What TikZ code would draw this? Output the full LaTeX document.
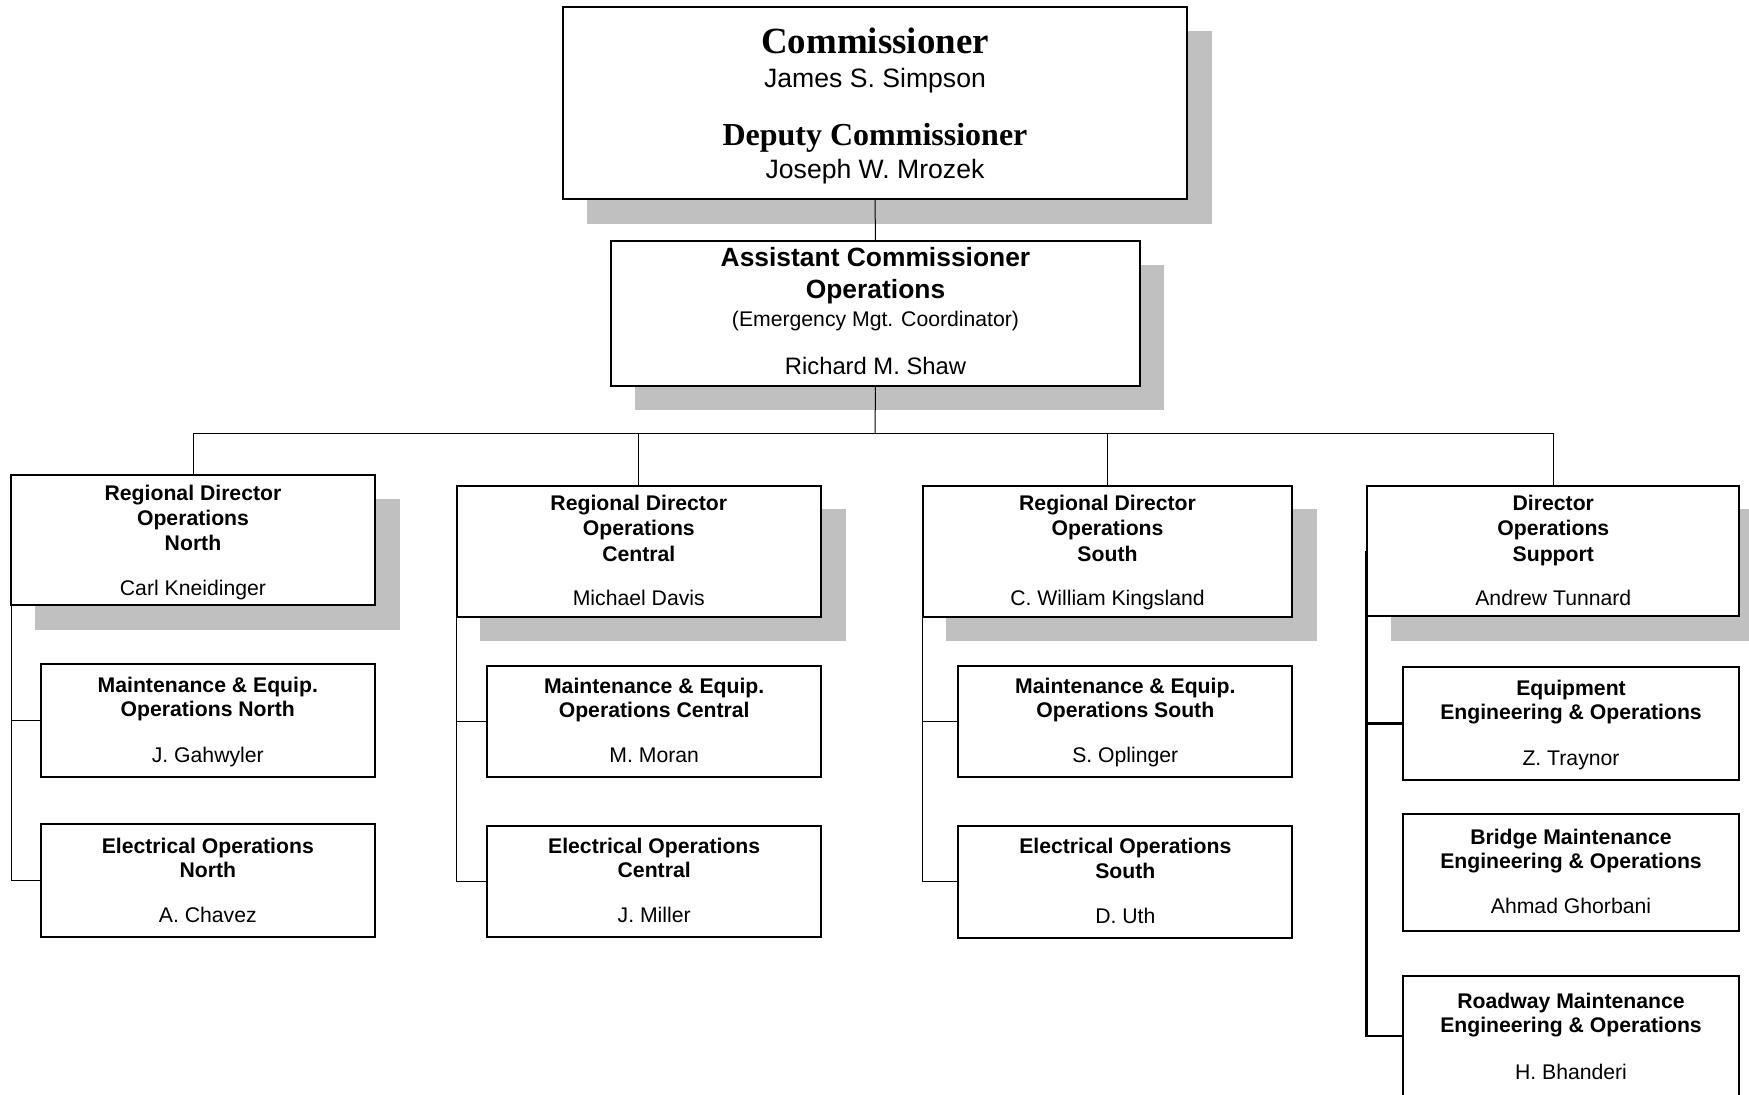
\documentclass[tikz,border=0pt]{standalone}
\usepackage{fontspec}
\newfontfamily\arialf{Liberation Sans}
\newfontfamily\timesf{Liberation Serif}
\usetikzlibrary{backgrounds}
\definecolor{shadowgray}{HTML}{C0C0C0}
\begin{document}
\begin{tikzpicture}[x=1pt,y=-1pt,
  box/.style={draw, line width=2pt, fill=white, inner sep=0pt, outer sep=0pt, anchor=north west},
  conn/.style={line width=1pt},
  thickconn/.style={line width=2.4pt},
  tx/.style={anchor=base, inner sep=0pt, outer sep=0pt},
  tb/.style={tx, font=\arialf\bfseries\fontsize{21.2}{25}\selectfont},
  tr/.style={tx, font=\arialf\fontsize{21.2}{25}\selectfont},
  ttl/.style={tx, font=\timesf\bfseries\fontsize{36.9}{40}\selectfont},
  ttls/.style={tx, font=\timesf\bfseries\fontsize{32}{36}\selectfont},
  tnm/.style={tx, font=\arialf\fontsize{26.6}{30}\selectfont},
  tab/.style={tx, font=\arialf\bfseries\fontsize{26.4}{30}\selectfont},
  tshaw/.style={tx, font=\arialf\fontsize{23.8}{28}\selectfont},
  shadowfill/.style={fill=shadowgray}
]
\useasboundingbox (0,0) rectangle (1749,1095);
\clip (0,0) rectangle (1749,1095);

% boxes
\node[box, minimum width=624, minimum height=192] (comm) at (563,7) {};
\node[box, minimum width=528.2, minimum height=144.7] (asst) at (611.4,241) {};
\node[box, minimum width=364, minimum height=130.3] (rdN) at (11,475) {};
\node[box, minimum width=364.3, minimum height=131] (rdC) at (456.7,485.7) {};
\node[box, minimum width=369.6, minimum height=131] (rdS) at (922.7,485.7) {};
\node[box, minimum width=372, minimum height=130.3] (rdP) at (1367.3,485.7) {};
\node[box, minimum width=334.3, minimum height=113] (mN) at (40.7,664.3) {};
\node[box, minimum width=334.3, minimum height=113.3] (eN) at (40.7,824) {};
\node[box, minimum width=333.7, minimum height=110.7] (mC) at (487.3,666) {};
\node[box, minimum width=333.7, minimum height=111] (eC) at (487.3,825.7) {};
\node[box, minimum width=334, minimum height=110.7] (mS) at (958.3,666) {};
\node[box, minimum width=334, minimum height=112] (eS) at (958.3,825.7) {};
\node[box, minimum width=336.6, minimum height=112.7] (eq) at (1402.7,667.3) {};
\node[box, minimum width=336.6, minimum height=116.7] (br) at (1402.7,814.3) {};
\node[box, minimum width=336.6, minimum height=120] (rw) at (1402.7,976) {};

% shadows
\begin{scope}[on background layer]
\foreach \b in {comm,asst,rdN,rdC,rdS,rdP}{
  \fill[shadowfill] ([shift={(23.5,23.5)}]\b.north west) rectangle ([shift={(24.5,24.5)}]\b.south east);
}
\end{scope}

% connectors
\coordinate (bus) at (875,433.3);
\draw[conn] (comm.south) -- (asst.north);
\draw[conn] (asst.south) -- (bus);
\draw[conn] (rdN.north) |- (bus) -| (rdP.north);
\draw[conn] (rdC.north) -- (rdC.north |- bus);
\draw[conn] (rdS.north) -- (rdS.north |- bus);
\draw[conn] (rdN.west) |- (mN.west);
\draw[conn] (rdN.west) |- (eN.west);
\draw[conn] (rdC.west) |- (mC.west);
\draw[conn] (rdC.west) |- (eC.west);
\draw[conn] (rdS.west) |- (mS.west);
\draw[conn] (rdS.west) |- (eS.west);
\draw[thickconn] ([xshift=-0.8pt]rdP.west) |- (eq.west);
\draw[thickconn] ([xshift=-0.8pt]rdP.west) |- (rw.west);

% texts
\node[ttl] (t1) at (875,53.3) {Commissioner};
\node[tnm] (t2) at (875,87.3) {James S. Simpson};
\node[ttls] (t3) at (875,145) {Deputy Commissioner};
\node[tnm] (t4) at (875,178.3) {Joseph W. Mrozek};

\node[tab] (a1) at (875.5,266.7) {Assistant Commissioner};
\node[tab] (a2) at (875.5,298.3) {Operations};
\node[tr] (a3) at (875.5,326.7) {(Emergency Mgt. Coordinator)};
\node[tshaw] (a4) at (875.5,374) {Richard M. Shaw};

\node[tb] (n1) at (193,500) {Regional Director};
\node[tb] (n2) at (193,525) {Operations};
\node[tb] (n3) at (193,550.3) {North};
\node[tr] (n4) at (193,595) {Carl Kneidinger};

\node[tb] (c1) at (638.8,510.7) {Regional Director};
\node[tb] (c2) at (638.8,535.7) {Operations};
\node[tb] (c3) at (638.8,561) {Central};
\node[tr] (c4) at (638.8,605.7) {Michael Davis};

\node[tb] (s1) at (1107.5,510.7) {Regional Director};
\node[tb] (s2) at (1107.5,535.7) {Operations};
\node[tb] (s3) at (1107.5,561) {South};
\node[tr] (s4) at (1107.5,605.7) {C. William Kingsland};

\node[tb] (p1) at (1553.3,510.7) {Director};
\node[tb] (p2) at (1553.3,535.7) {Operations};
\node[tb] (p3) at (1553.3,561) {Support};
\node[tr] (p4) at (1553.3,605.7) {Andrew Tunnard};

\node[tb] (mn1) at (207.8,692.7) {Maintenance \& Equip.};
\node[tb] (mn2) at (207.8,716.7) {Operations North};
\node[tr] (mn3) at (207.8,762.3) {J. Gahwyler};
\node[tb] (en1) at (207.8,853.3) {Electrical Operations};
\node[tb] (en2) at (207.8,877.3) {North};
\node[tr] (en3) at (207.8,922.3) {A. Chavez};

\node[tb] (mc1) at (654.2,693.3) {Maintenance \& Equip.};
\node[tb] (mc2) at (654.2,717.3) {Operations Central};
\node[tr] (mc3) at (654.2,762.7) {M. Moran};
\node[tb] (ec1) at (654.2,853) {Electrical Operations};
\node[tb] (ec2) at (654.2,877.7) {Central};
\node[tr] (ec3) at (654.2,922.7) {J. Miller};

\node[tb] (ms1) at (1125.3,693.3) {Maintenance \& Equip.};
\node[tb] (ms2) at (1125.3,717.7) {Operations South};
\node[tr] (ms3) at (1125.3,762.7) {S. Oplinger};
\node[tb] (es1) at (1125.3,853.3) {Electrical Operations};
\node[tb] (es2) at (1125.3,878.5) {South};
\node[tr] (es3) at (1125.3,923.3) {D. Uth};

\node[tb] (q1) at (1571,695.5) {Equipment};
\node[tb] (q2) at (1571,719.8) {Engineering \& Operations};
\node[tr] (q3) at (1571,765) {Z. Traynor};
\node[tb] (b1) at (1571,844) {Bridge Maintenance};
\node[tb] (b2) at (1571,868.5) {Engineering \& Operations};
\node[tr] (b3) at (1571,913.3) {Ahmad Ghorbani};
\node[tb] (r1) at (1571,1008.3) {Roadway Maintenance};
\node[tb] (r2) at (1571,1032.3) {Engineering \& Operations};
\node[tr] (r3) at (1571,1079) {H. Bhanderi};
\end{tikzpicture}
\end{document}
